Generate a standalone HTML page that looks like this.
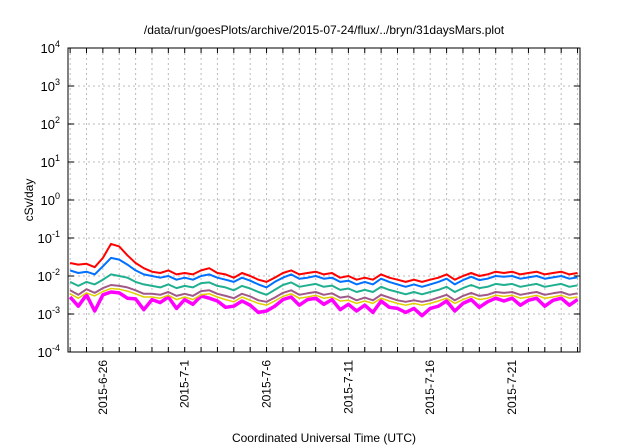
<!DOCTYPE html>
<html><head><meta charset="utf-8"><style>
body{margin:0;background:#fff}
svg{display:block;font-family:"Liberation Sans",sans-serif}
</style></head><body>
<svg id="chart" width="640" height="448">
<text x="324" y="34" font-size="12" text-anchor="middle">/data/run/goesPlots/archive/2015-07-24/flux/../bryn/31daysMars.plot</text>
<g id="grid"></g>
<g id="yaxis"></g>
<g id="xaxis"></g>
<g id="series"></g>
<rect x="68" y="48" width="512" height="304" fill="none" stroke="#000" stroke-width="1"/>
<text transform="translate(33,200) rotate(-90)" font-size="12" text-anchor="middle">cSv/day</text>
<text x="324" y="442" font-size="12" text-anchor="middle">Coordinated Universal Time (UTC)</text>
</svg>
<script>
const startDay = -2.13;
const endDay = 29.15;
const yDecades = [-4,-3,-2,-1,0,1,2,3,4];
const tickDays = [0,5,10,15,20,25];
const tickLabels = ["2015-6-26","2015-7-1","2015-7-6","2015-7-11","2015-7-16","2015-7-21"];
const dataDays = [-2,-1.5,-1,-0.5,0,0.5,1,1.5,2,2.5,3,3.5,4,4.5,5,5.5,6,6.5,7,7.5,8,8.5,9,9.5,10,10.5,11,11.5,12,12.5,13,13.5,14,14.5,15,15.5,16,16.5,17,17.5,18,18.5,19,19.5,20,20.5,21,21.5,22,22.5,23,23.5,24,24.5,25,25.5,26,26.5,27,27.5,28,28.5,29];
const red =     [0.022,0.02,0.021,0.017,0.03,0.07,0.06,0.035,0.022,0.016,0.013,0.012,0.014,0.011,0.012,0.011,0.014,0.016,0.012,0.011,0.009,0.012,0.01,0.008,0.007,0.009,0.012,0.014,0.011,0.012,0.013,0.011,0.012,0.009,0.01,0.008,0.009,0.008,0.011,0.009,0.008,0.007,0.008,0.007,0.008,0.009,0.011,0.008,0.01,0.012,0.01,0.011,0.013,0.012,0.013,0.011,0.012,0.013,0.011,0.012,0.013,0.011,0.012];
const blue =    [0.014,0.012,0.013,0.011,0.018,0.03,0.027,0.02,0.014,0.011,0.01,0.009,0.01,0.008,0.009,0.008,0.01,0.011,0.009,0.008,0.007,0.009,0.0075,0.006,0.005,0.007,0.009,0.011,0.0085,0.009,0.01,0.0085,0.009,0.007,0.0075,0.006,0.007,0.006,0.0085,0.007,0.006,0.0052,0.006,0.0052,0.006,0.007,0.0085,0.006,0.0078,0.0095,0.0078,0.0085,0.01,0.0095,0.01,0.0085,0.0092,0.01,0.0085,0.0092,0.01,0.0085,0.0092];
const teal =    [0.007,0.0055,0.007,0.006,0.008,0.011,0.01,0.009,0.007,0.006,0.0055,0.005,0.006,0.0048,0.0055,0.005,0.0065,0.0068,0.0055,0.005,0.0042,0.0055,0.0047,0.0038,0.0032,0.0043,0.0058,0.0068,0.0052,0.0057,0.0062,0.0052,0.0056,0.0043,0.0047,0.0038,0.0043,0.0038,0.0052,0.0043,0.0038,0.0033,0.0038,0.0033,0.0038,0.0043,0.0052,0.0038,0.0048,0.0058,0.0048,0.0052,0.0062,0.0058,0.0062,0.0052,0.0057,0.0062,0.0052,0.0057,0.0062,0.0052,0.0057];
const purple =  [0.0042,0.0032,0.0045,0.0036,0.0048,0.0058,0.0055,0.005,0.0042,0.0034,0.0034,0.0032,0.0038,0.003,0.0034,0.003,0.004,0.0042,0.0034,0.003,0.0026,0.0034,0.0029,0.0023,0.0021,0.0027,0.0036,0.0042,0.0032,0.0035,0.0038,0.0032,0.0035,0.0027,0.0029,0.0023,0.0027,0.0023,0.0032,0.0027,0.0023,0.0021,0.0023,0.0021,0.0023,0.0027,0.0032,0.0023,0.003,0.0036,0.003,0.0032,0.0038,0.0036,0.0038,0.0032,0.0035,0.0038,0.0032,0.0035,0.0038,0.0032,0.0035];
const yellow =  [0.0034,0.0026,0.0036,0.003,0.0039,0.0047,0.0045,0.004,0.0034,0.0028,0.0028,0.0026,0.0031,0.0024,0.0028,0.0024,0.0032,0.0034,0.0028,0.0024,0.0021,0.0028,0.0023,0.0019,0.0017,0.0022,0.0029,0.0034,0.0026,0.0028,0.0031,0.0026,0.0028,0.0022,0.0023,0.0019,0.0022,0.0019,0.0026,0.0022,0.0019,0.0017,0.0019,0.0017,0.0019,0.0022,0.0026,0.0019,0.0024,0.0029,0.0024,0.0026,0.0031,0.0029,0.0031,0.0026,0.0028,0.0031,0.0026,0.0028,0.0031,0.0026,0.0028];
const magenta = [0.0028,0.0016,0.0032,0.0012,0.0032,0.0038,0.0036,0.0026,0.0025,0.0013,0.0024,0.002,0.0028,0.0014,0.0024,0.0018,0.003,0.0026,0.0022,0.0015,0.0016,0.0022,0.0017,0.0011,0.0012,0.0016,0.0024,0.0028,0.0017,0.0024,0.0026,0.0018,0.0024,0.0013,0.0018,0.0012,0.0017,0.0011,0.0022,0.0015,0.0014,0.0011,0.0014,0.0009,0.0014,0.0016,0.0022,0.0012,0.0019,0.0024,0.0015,0.0021,0.0026,0.0022,0.0026,0.0017,0.0023,0.0026,0.0016,0.0023,0.0026,0.0017,0.0024];
const L=68,R=580,T=48,B=352;
const NS="http://www.w3.org/2000/svg";
function xs(d){return L+(d-startDay)/(endDay-startDay)*(R-L);}
function ys(v){return T+(4-Math.log10(v))/8*(B-T);}
function mk(tag,attrs,parent){const e=document.createElementNS(NS,tag);for(const k in attrs)e.setAttribute(k,attrs[k]);parent.appendChild(e);return e;}
const grid=document.getElementById('grid'),ya=document.getElementById('yaxis'),xa=document.getElementById('xaxis'),sg=document.getElementById('series');
yDecades.forEach(p=>{
  const y=T+(4-p)/8*(B-T);
  if(p>-4&&p<4){const g=mk('line',{x1:L,x2:R,y1:y,y2:y,stroke:'#bbb','stroke-dasharray':'2,3'},grid);
  
  }
  const t1=mk('line',{x1:L,x2:L+6,y1:y,y2:y,stroke:'#000'},ya);
  
  
  const t2=mk('line',{x1:R,x2:R-6,y1:y,y2:y,stroke:'#000'},ya);
  
  
  const tx=mk('text',{x:L-8,y:y+5,'font-size':'13','text-anchor':'end'},ya);
  
  
  tx.textContent='10';
  const sp=mk('tspan',{dy:'-6','font-size':'9'},tx);sp.textContent=String(p);
});
for(let d=Math.ceil(startDay);d<=endDay;d++){
  const x=xs(d);
  const g=mk('line',{x1:x,x2:x,y1:T,y2:B,stroke:'#bbb','stroke-dasharray':'2,3'},grid);
  
  
  const t=mk('line',{x1:x,x2:x,y1:B,y2:B-5,stroke:'#000'},xa);
  
  
  const t2=mk('line',{x1:x,x2:x,y1:T,y2:T+5,stroke:'#000'},xa);
  
  
}
tickDays.forEach((d,i)=>{
  const x=xs(d);
  const tx=mk('text',{transform:`translate(${x+4},${B+8}) rotate(-90)`,'font-size':'12','text-anchor':'end'},xa);
  
  
  tx.textContent=tickLabels[i];
});
const seriesList=[[magenta,'#ff00ff',3.5,'series-magenta'],[yellow,'#e0d000',1.5,'series-yellow'],[purple,'#a05a8a',2,'series-purple'],[teal,'#20b090',2,'series-teal'],[blue,'#0070ff',2,'series-blue'],[red,'#ff0000',2,'series-red']];
seriesList.forEach(([arr,c,w,n])=>{
  const pts=arr.map((v,i)=>xs(dataDays[i]).toFixed(1)+','+ys(v).toFixed(1)).join(' ');
  const p=mk('polyline',{points:pts,fill:'none',stroke:c,'stroke-width':w,'stroke-linejoin':'round'},sg);
  
  
});
</script>
</body></html>
